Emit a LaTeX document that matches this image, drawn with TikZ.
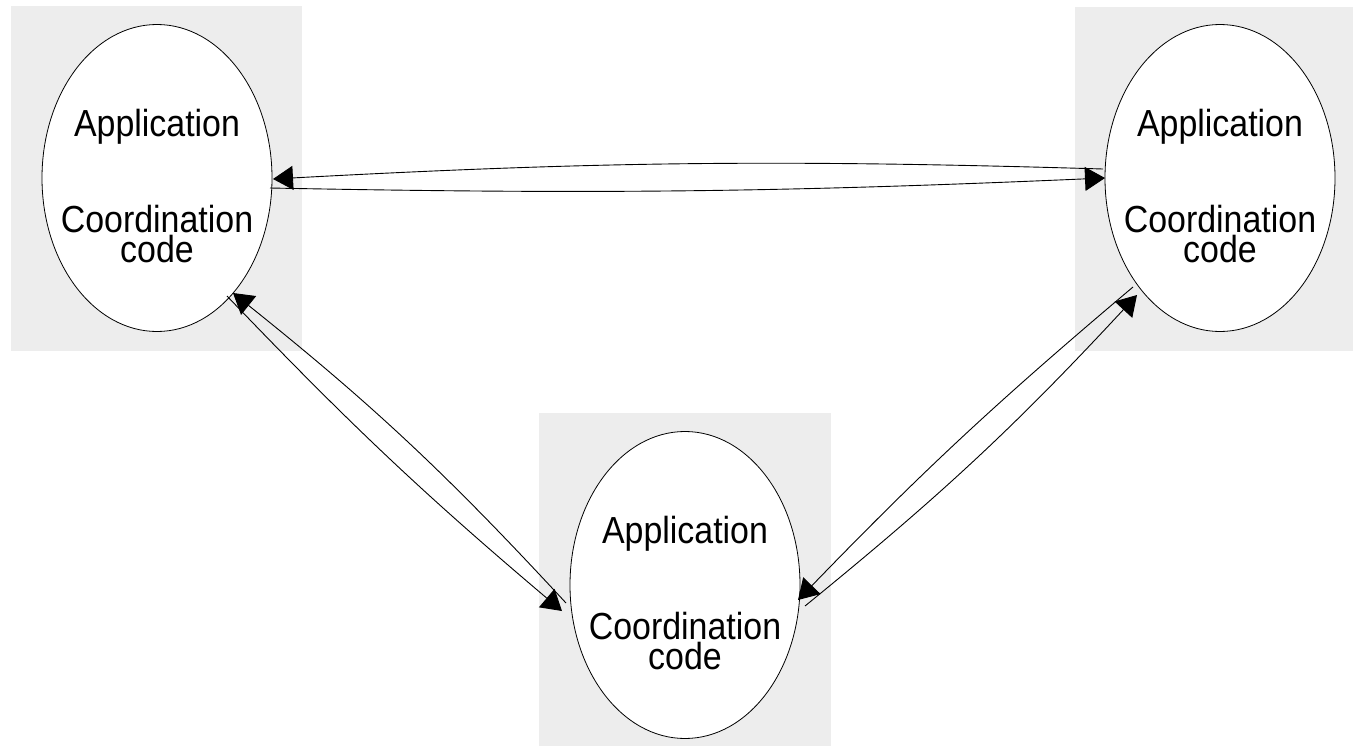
\documentclass[tikz,border=0pt]{standalone}
\usepackage{fontspec}
\setmainfont[FakeStretch=0.9]{Liberation Sans}
\usetikzlibrary{arrows.meta,calc,shapes.geometric}

\definecolor{panelgray}{RGB}{237,237,237}

\tikzset{
  panel/.style={fill=panelgray, draw=none},
  stage/.style={ellipse, draw=black, fill=white, line width=0.8pt,
                minimum width=230pt, minimum height=307pt, inner sep=0pt},
  caption/.style={align=center, inner sep=0pt,
                  font=\fontsize{37.7pt}{30pt}\selectfont},
  link/.style={-{Triangle[length=20pt,width=24pt]}, line width=0.9pt, black},
}

\begin{document}
\begin{tikzpicture}[x=1pt, y=-1pt]
  % page frame
  \useasboundingbox (0,0) rectangle (1353,755);
  \fill[white] (0,0) rectangle (1353,755);

  % grey panels behind the three processes
  \fill[panel] (11,6) rectangle (302,351);
  \fill[panel] (1075,7) rectangle (1353,351);
  \fill[panel] (539,413) rectangle (831,746);

  % the three processes
  \node[stage] (L) at (157,178) {};
  \node[stage] (R) at (1220,178) {};
  \node[stage] (B) at (685,585) {};

  \node[caption] (Ltext) at ($(L.center)+(0,8)$) {Application\\[59pt]Coordination\\code};
  \node[caption] (Rtext) at ($(R.center)+(0,8)$) {Application\\[59pt]Coordination\\code};
  \node[caption] (Btext) at ($(B.center)+(0,8)$) {Application\\[59pt]Coordination\\code};

  % left <-> right
  \draw[link] ($(R.center)+(-117,-9)$) to[bend right=2.4] ($(L.center)+(116,1)$);
  \draw[link] ($(L.center)+(113,10)$) to[bend right=1.8] ($(R.center)+(-115,0)$);

  % left <-> bottom
  \draw[link] ($(L.center)+(70,118)$) to[bend right=3] ($(B.center)+(-123,26)$);
  \draw[link] ($(B.center)+(-119,18)$) to[bend right=4.3] ($(L.center)+(76,115)$);

  % right <-> bottom
  \draw[link] ($(R.center)+(-87,109)$) to[bend right=2.9] ($(B.center)+(113,15)$);
  \draw[link] ($(B.center)+(120,21)$) to[bend right=4] ($(R.center)+(-83,117)$);
\end{tikzpicture}
\end{document}
